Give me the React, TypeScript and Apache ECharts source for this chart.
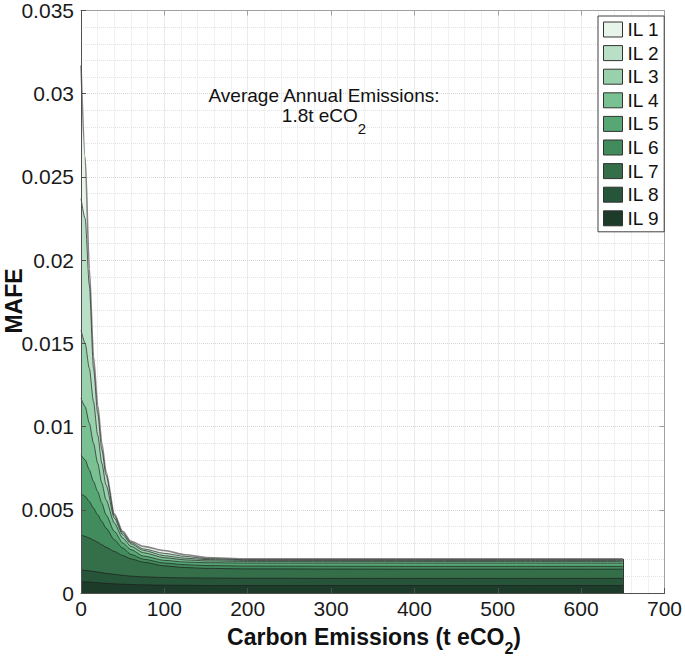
import { useEffect, useRef } from 'react';
import * as echarts from 'echarts';

// Carbon emissions (t eCO2) at which the stacked bands were read
const emissions = [0, 5, 10, 15, 20, 25, 30, 40, 50, 60, 75, 100, 125, 150, 200, 300, 400, 500, 650];

// Upper edge (MAFE) of each stacked band
const il1Top = [0.0317, 0.0262, 0.0195, 0.0142, 0.0113, 0.009, 0.0073, 0.00475, 0.0037, 0.0031, 0.0028, 0.00255, 0.0023, 0.00213, 0.00205, 0.00205, 0.00205, 0.00205, 0.00205];
const il2Top = [0.0237, 0.0225, 0.0185, 0.0135, 0.0108, 0.0086, 0.0071, 0.00465, 0.0036, 0.00303, 0.00265, 0.00238, 0.0022, 0.00207, 0.002, 0.002, 0.002, 0.002, 0.002];
const il3Top = [0.0158, 0.015, 0.0135, 0.0115, 0.0095, 0.0078, 0.0065, 0.0045, 0.0035, 0.00295, 0.00256, 0.00224, 0.00209, 0.00201, 0.00196, 0.00196, 0.00196, 0.00196, 0.00196];
const il4Top = [0.0117, 0.0112, 0.0102, 0.009, 0.0078, 0.0066, 0.0056, 0.0042, 0.0033, 0.0028, 0.00242, 0.00212, 0.00199, 0.00193, 0.0019, 0.0019, 0.0019, 0.0019, 0.0019];
const il5Top = [0.0083, 0.008, 0.0074, 0.0067, 0.0061, 0.0054, 0.0047, 0.0037, 0.003, 0.0026, 0.00222, 0.00196, 0.00186, 0.00182, 0.0018, 0.0018, 0.0018, 0.0018, 0.0018];
const il6Top = [0.006, 0.0058, 0.0055, 0.0051, 0.0047, 0.0043, 0.0039, 0.0032, 0.0027, 0.00232, 0.00203, 0.0018, 0.0017, 0.00165, 0.00162, 0.00161, 0.0016, 0.0016, 0.0016];
const il7Top = [0.0035, 0.0034, 0.0033, 0.00318, 0.00305, 0.0029, 0.00275, 0.0025, 0.00225, 0.00205, 0.00185, 0.00163, 0.00153, 0.00148, 0.00145, 0.00144, 0.00143, 0.00143, 0.00143];
const il8Top = [0.00138, 0.00136, 0.00133, 0.0013, 0.00126, 0.00122, 0.00118, 0.00112, 0.00106, 0.00101, 0.00097, 0.00093, 0.00091, 0.0009, 0.00089, 0.00088, 0.00088, 0.00088, 0.00088];
const il9Top = [0.00068, 0.00067, 0.00066, 0.00064, 0.00062, 0.0006, 0.00058, 0.00055, 0.00053, 0.00051, 0.00049, 0.00047, 0.00046, 0.00045, 0.00045, 0.00045, 0.00045, 0.00045, 0.00045];

const seriesNames = ['IL 1', 'IL 2', 'IL 3', 'IL 4', 'IL 5', 'IL 6', 'IL 7', 'IL 8', 'IL 9'];
const bandTops = [il1Top, il2Top, il3Top, il4Top, il5Top, il6Top, il7Top, il8Top, il9Top];

// Axis ranges / ticks
const xMin = 0, xMax = 700, xStep = 100;
const yMin = 0, yMax = 0.035, yStep = 0.005;

const bandColors = ['#e7f4ea', '#b9e0c6', '#98d1ab', '#79c092', '#57a775', '#428b5c', '#346f4a', '#275539', '#1c3c29'];
const FONT = '"Liberation Sans", Arial, Helvetica, sans-serif';

export default function App() {
  const ref = useRef<HTMLDivElement>(null);
  useEffect(() => {
    if (!ref.current) return;
    const chart = echarts.init(ref.current, undefined, { renderer: 'svg' });
    const lastX = emissions[emissions.length - 1];
    const lastTop = il1Top[il1Top.length - 1];

    const series: any[] = bandTops.map((tops, i) => ({
      name: seriesNames[i],
      type: 'line',
      xAxisIndex: 0,
      yAxisIndex: 0,
      data: emissions.map((x, j) => [x, tops[j]]),
      symbol: 'none',
      showSymbol: false,
      smooth: 0.25,
      smoothMonotone: 'x',
      z: 2 + i,
      itemStyle: { color: bandColors[i], borderColor: '#333', borderWidth: 1 },
      lineStyle: { color: i === 0 ? '#858585' : '#1e1e1e', width: i === 0 ? 1.6 : 0.7 },
      areaStyle: { color: bandColors[i], opacity: 1 },
      ...(i === 0
        ? {
            markLine: {
              silent: true,
              symbol: ['none', 'none'],
              label: { show: false },
              lineStyle: { color: '#333', width: 1, type: 'solid' },
              data: [[{ coord: [lastX, 0] }, { coord: [lastX, lastTop] }]],
            },
          }
        : {}),
    }));

    const option: any = {
      animation: false,
      grid: { left: 81, right: 17, top: 9, bottom: 66, containLabel: false },
      legend: {
        data: seriesNames,
        orient: 'vertical',
        left: 598,
        top: 16,
        padding: [4, 5, 4, 5],
        itemGap: 4.6,
        itemWidth: 19,
        itemHeight: 15,
        icon: 'rect',
        borderColor: '#404040',
        borderWidth: 1,
        backgroundColor: '#ffffff',
        selectedMode: false,
        z: 30,
        itemStyle: { borderColor: '#333', borderWidth: 1 },
        textStyle: { fontSize: 19, fontFamily: FONT, color: '#111' },
      },
      xAxis: [
        {
          type: 'value', min: xMin, max: xMax, interval: xStep, position: 'bottom', z: 20,
          axisLine: { show: true, onZero: false, lineStyle: { color: '#505050', width: 1 } },
          axisTick: { show: true, inside: true, length: 5, lineStyle: { color: '#505050' } },
          axisLabel: { fontSize: 21, fontFamily: FONT, color: '#1a1a1a', margin: 5 },
          splitLine: { show: false },
        },
        {
          type: 'value', min: xMin, max: xMax, interval: xStep, position: 'top', z: 0,
          axisLine: { show: true, onZero: false, lineStyle: { color: '#a0a0a0', width: 1 } },
          axisTick: { show: true, inside: true, length: 5, lineStyle: { color: '#a0a0a0' } },
          axisLabel: { show: false },
          splitLine: { show: true, lineStyle: { color: '#d6d6d6', type: 'dotted', width: 1 } },
          minorTick: { show: false, splitNumber: 5 },
          minorSplitLine: { show: true, lineStyle: { color: '#e3e3e3', type: 'dotted', width: 1 } },
        },
      ],
      yAxis: [
        {
          type: 'value', min: yMin, max: yMax, interval: yStep, position: 'left', z: 20,
          axisLine: { show: true, onZero: false, lineStyle: { color: '#505050', width: 1 } },
          axisTick: { show: true, inside: true, length: 5, lineStyle: { color: '#505050' } },
          axisLabel: { fontSize: 21, fontFamily: FONT, color: '#1a1a1a', margin: 7 },
          splitLine: { show: false },
        },
        {
          type: 'value', min: yMin, max: yMax, interval: yStep, position: 'right', z: 0,
          axisLine: { show: true, onZero: false, lineStyle: { color: '#a0a0a0', width: 1 } },
          axisTick: { show: true, inside: true, length: 5, lineStyle: { color: '#a0a0a0' } },
          axisLabel: { show: false },
          splitLine: { show: true, lineStyle: { color: '#d6d6d6', type: 'dotted', width: 1 } },
          minorTick: { show: false, splitNumber: 5 },
          minorSplitLine: { show: true, lineStyle: { color: '#e3e3e3', type: 'dotted', width: 1 } },
        },
      ],
      series,
      graphic: [
        {
          type: 'text', x: 14, y: 301, rotation: Math.PI / 2, z: 50,
          style: {
            text: 'MAFE', fontSize: 23, fontWeight: 'bold', fontFamily: FONT, fill: '#111',
            align: 'center', verticalAlign: 'middle', textAlign: 'center', textVerticalAlign: 'middle',
          },
        },
        {
          type: 'text', x: 374, y: 637, z: 50,
          style: {
            text: '{m|Carbon Emissions (t eCO}{s|2}{m|)}',
            align: 'center', verticalAlign: 'middle', textAlign: 'center', textVerticalAlign: 'middle',
            fill: '#111', fontSize: 23, fontWeight: 'bold', fontFamily: FONT,
            rich: {
              m: { fontSize: 23, fontWeight: 'bold', fontFamily: FONT, fill: '#111' },
              s: { fontSize: 16, fontWeight: 'bold', fontFamily: FONT, fill: '#111', padding: [22, 0, 0, 0] },
            },
          },
        },
        {
          type: 'text', x: 324, y: 95, z: 50,
          style: {
            text: 'Average Annual Emissions:', fontSize: 19, fontFamily: FONT, fill: '#111',
            align: 'center', verticalAlign: 'middle', textAlign: 'center', textVerticalAlign: 'middle',
          },
        },
        {
          type: 'text', x: 324, y: 115, z: 50,
          style: {
            text: '{m|1.8t eCO}{s|2}',
            align: 'center', verticalAlign: 'middle', textAlign: 'center', textVerticalAlign: 'middle',
            fill: '#111', fontSize: 19, fontFamily: FONT,
            rich: {
              m: { fontSize: 19, fontFamily: FONT, fill: '#111' },
              s: { fontSize: 15, fontFamily: FONT, fill: '#111', padding: [26, 0, 0, 0] },
            },
          },
        },
      ],
    };
    chart.setOption(option);
    return () => chart.dispose();
  }, []);
  return <div ref={ref} style={{ position: 'fixed', left: 0, top: 0, width: 685, height: 659, background: '#fff' }} />;
}
